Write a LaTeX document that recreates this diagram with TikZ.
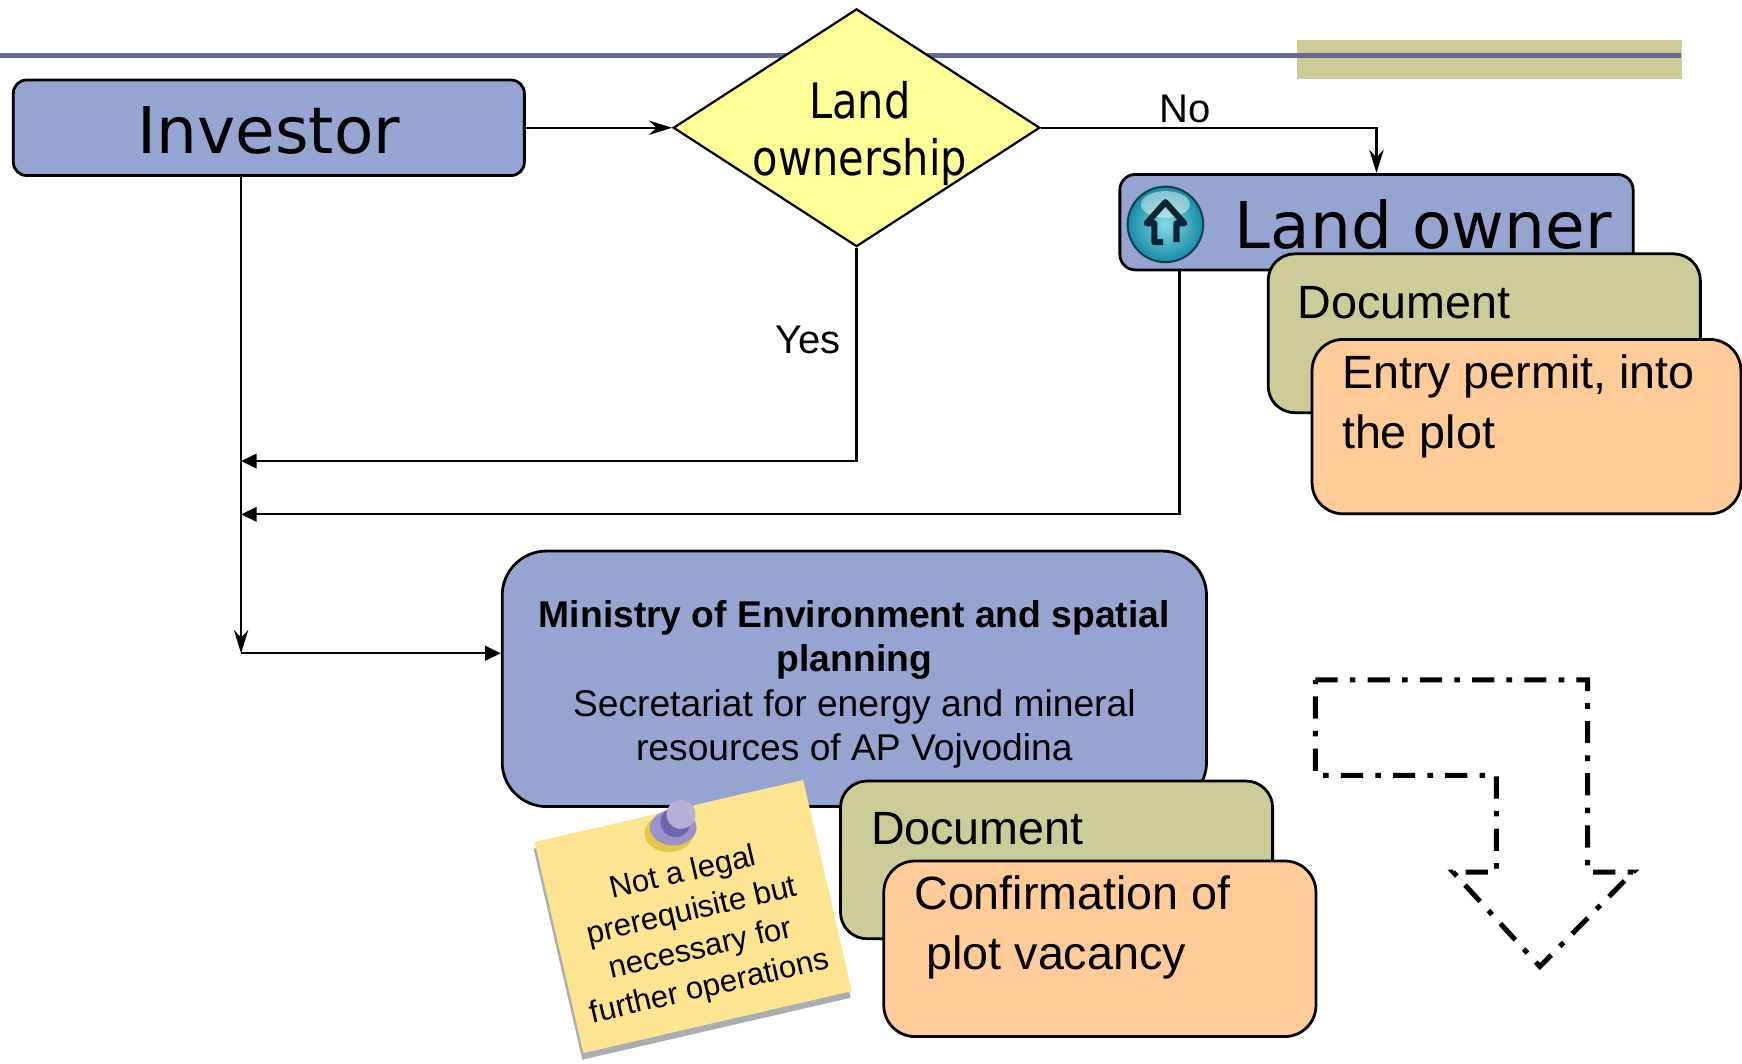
\documentclass[tikz,border=0pt]{standalone}
\usepackage{fontspec}
\setmainfont{Liberation Sans}
\newfontfamily\dejavu{DejaVu Sans}
\newfontfamily\dejavuschmal[FakeStretch=0.85]{DejaVu Sans}
\usepackage{tikz}
\usetikzlibrary{shapes.geometric,calc,shadows,arrows.meta}

\definecolor{kastenblau}{HTML}{95A4D0}
\definecolor{khaki}{HTML}{CCCC99}
\definecolor{pfirsich}{HTML}{FFCC99}
\definecolor{rautengelb}{HTML}{FFFF99}
\definecolor{linienblau}{HTML}{666699}
\definecolor{notizgelb}{HTML}{FDE491}
\definecolor{notizschatten}{HTML}{A9AEB2}
\definecolor{kugel}{HTML}{168CA4}
\definecolor{kugelhell}{HTML}{86DAE8}
\definecolor{kugeldunkel}{HTML}{0D3F4E}
\definecolor{hausdunkel}{HTML}{0B2533}
\definecolor{pinhell}{HTML}{B6AFD9}
\definecolor{pinmittel}{HTML}{9A92C8}
\definecolor{pindunkel}{HTML}{6F66AE}
\definecolor{pingold}{HTML}{E2C94E}

\begin{document}
\begin{tikzpicture}[x=1pt, y=-1pt,
        font=\fontsize{36}{44}\selectfont,
        line width=2pt,
        kasten/.style={draw, line width=2.5pt, inner sep=0pt},
        blau/.style={kasten, fill=kastenblau},
        dokument/.style={kasten, fill=khaki, rounded corners=24pt, minimum width=389pt},
        inhalt/.style={kasten, fill=pfirsich, rounded corners=28pt},
        gross/.style={font=\dejavu\fontsize{58}{70}\selectfont},
        dok/.style={font=\fontsize{42}{54}\selectfont, inner sep=0pt},
        spitz/.style={-{Stealth[length=21pt, width=13pt, inset=7pt]}},
        >={Triangle[length=14pt, width=13pt]} % Voreinstellung Pfeilspitzen
        ]
            \useasboundingbox (0,0) rectangle (1568,957);

            % Kopfzeile
            \fill[khaki] (1167,36) rectangle (1514,71);
            \draw[linienblau, line width=4.2pt] (0,50) -- (1513,50);

            % Investor, Entscheidung
            \node[blau, rounded corners=12pt, minimum width=460pt, minimum height=86pt,
                  text height=48pt, gross]
                (investor) at (242,115) {Investor};
            \node[kasten, diamond, fill=rautengelb, line width=2pt,
                  minimum width=330pt, minimum height=214pt]
                (frage) at (771,115) {};
            \node[align=center, font=\dejavuschmal\fontsize{44}{51}\selectfont]
                (fragetext) at (774,120) {Land\\ownership};

            % Grundeigentuemer
            \node[blau, rounded corners=14pt, minimum width=462pt, minimum height=86pt]
                (eigentuemer) at (1239,200) {};
            \shade[inner color=kugelhell, outer color=kugel] (1049,202) circle (34pt);
            \fill[white, opacity=0.45] (1049,184) ellipse (22pt and 12pt);
            \draw[kugeldunkel, line width=1.8pt] (1049,202) circle (34pt);
            \draw[hausdunkel, line width=5.5pt, line join=round]
                (1047,218) -- (1039,218) -- (1039,201) -- (1032,201) -- (1049,182)
                -- (1066,201) -- (1059,201) -- (1059,218);
            \node[gross] (eigentuemertext) at (1281,202) {Land owner};

            \node[dokument, minimum height=143pt] (dok1) at (1336,300) {};
            \node[dok, anchor=west] (dok1text) at (1167,272) {Document};
            \node[inhalt, minimum width=386pt, minimum height=157pt] (erlaubnis) at (1374,384) {};
            \node[dok, anchor=north west, align=left] (erlaubnistext) at (1207,318)
                {Entry permit, into\\the plot};

            % Ministerium
            \node[blau, rounded corners=40pt, minimum width=634pt, minimum height=230pt]
                (ministerium) at (769,611) {};
            \node[align=center, font=\fontsize{33.5}{40}\selectfont]
                (ministeriumtext) at (769,616)
                {\textbf{Ministry of Environment and spatial}\\\textbf{planning}\\
                 Secretariat for energy and mineral\\resources of AP Vojvodina};

            % Notizzettel
            \node[fill=notizgelb, rotate=13, minimum width=248pt, minimum height=195pt,
                  drop shadow={shadow xshift=-1pt, shadow yshift=-6pt, fill=notizschatten, opacity=1}]
                (notiz) at (624,825) {};
            \node[rotate=13, align=center, font=\fontsize{28}{35}\selectfont]
                (notiztext) at (627,838)
                {Not a legal\\prerequisite but\\necessary for\\further operations};
            \fill[pingold] (602,750) ellipse (22pt and 17pt);
            \fill[pinmittel] (606,745) ellipse (21pt and 16pt);
            \fill[pindunkel] (608,740) circle (13.5pt);
            \fill[pinhell] (613,733) circle (13pt);

            \node[dokument, minimum height=142pt] (dok2) at (951,774) {};
            \node[dok, anchor=west] (dok2text) at (783,746) {Document};
            \node[inhalt, minimum width=389pt, minimum height=158pt] (bestaetigung) at (990,854) {};
            \node[dok, anchor=north west, align=left] (bestaetigungtext) at (822,787)
                {Confirmation of\\\hspace*{11pt}plot vacancy};

            % Verbindungen
            \coordinate (stamm) at ($(investor.south)+(-25,0)$);
            \coordinate (zuflussja) at (217,415);
            \coordinate (zuflussnein) at (217,463);
            \coordinate (stammunten) at (217,588);

            \draw[spitz] (investor.east) -- (frage.west);
            \draw[spitz] (frage.east) -| node[pos=0.215, above, inner sep=3pt] (nein) {No}
                (eigentuemer.north);
            \draw[->] (frage.south) |- (zuflussja);
            \draw[->] ($(eigentuemer.south west)+(55,0)$) |- (zuflussnein);
            \draw[spitz] (stamm) -- (stammunten);
            \draw[->] (stammunten) -- (stammunten -| ministerium.west);
            \node (ja) at (727,306) {Yes};

            % Pfeil rechts unten
            \draw[line width=4.5pt, dash pattern=on 20pt off 11pt on 5pt off 11pt]
                (1184,612) -- (1429,612) -- (1429,785) -- (1470,785) -- (1386,870)
                -- (1308,785) -- (1347,785) -- (1347,698) -- (1184,698) -- cycle;

        \end{tikzpicture}
\end{document}
